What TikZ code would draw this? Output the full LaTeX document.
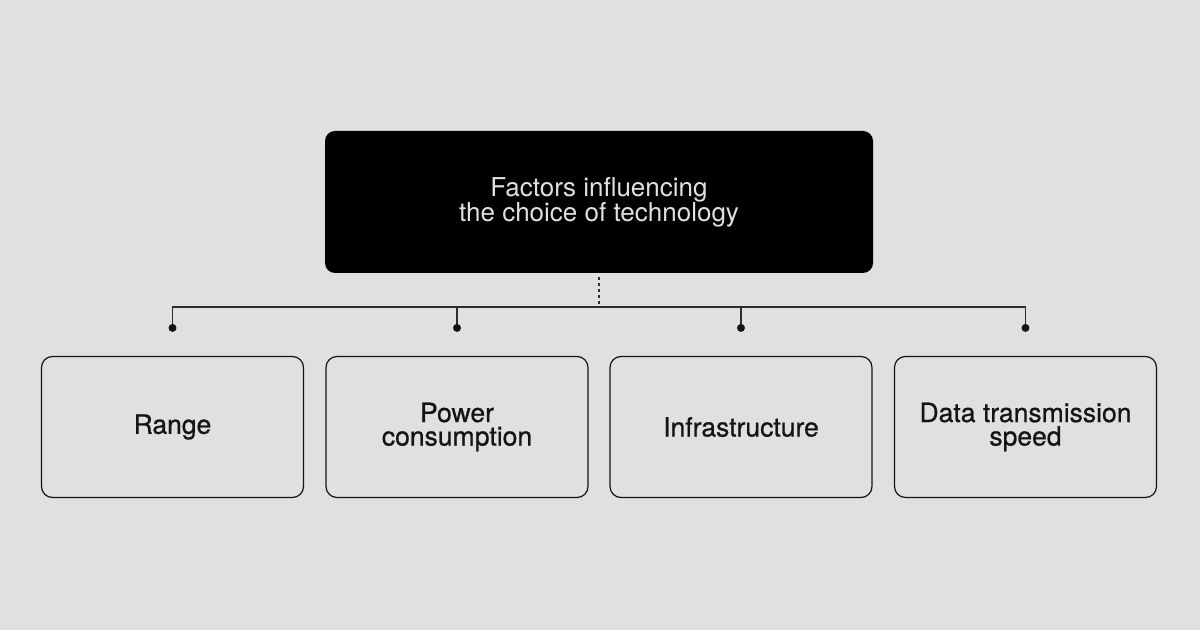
\documentclass[tikz,border=0pt]{standalone}
\usepackage{fontspec}
\setmainfont{TeX Gyre Heros}
\newfontface\midfont{TeX Gyre Heros}[FakeBold=0.7]
\usepackage{tikz}
\usetikzlibrary{positioning}
\definecolor{bgcolor}{RGB}{224,224,224}
\definecolor{inkcolor}{RGB}{20,20,20}
\definecolor{linkcolor}{RGB}{45,45,45}
\tikzset{
  titlebox/.style={fill=black, rounded corners=10pt, minimum width=548pt,
    minimum height=142pt, text=bgcolor, align=center,
    font=\fontsize{26}{25}\selectfont},
  factorbox/.style={draw=inkcolor, line width=1.2pt, rounded corners=11pt,
    minimum width=262pt, minimum height=141pt, text=inkcolor, align=center,
    font=\midfont\fontsize{26.5}{23.5}\selectfont},
  linkln/.style={line width=1.4pt, linkcolor},
  hubln/.style={dash pattern=on 3pt off 3pt, line width=1.4pt, linkcolor},
}
\newcommand{\tipdot}[1]{%
  \fill[inkcolor] #1 circle (4pt);
}
\begin{document}
\begin{tikzpicture}[x=1pt, y=1pt]
    \useasboundingbox[fill=bgcolor] (0,0) rectangle (1200,630);
    \node[titlebox] (top) at (599,428) {Factors influencing\\the choice of technology};
    % the four factors
    \node[factorbox] (range) at (172.5,203) {Range};
    \node[factorbox] (power) at (457,203) {Power\\consumption};
    \node[factorbox] (infra) at (741,203) {Infrastructure};
    \node[factorbox] (speed) at (1025.5,203) {Data transmission\\speed};
    \coordinate (hub) at (599,323);
    \coordinate[above=28pt of range] (d1);
    \coordinate[above=28pt of power] (d2);
    \coordinate[above=28pt of infra] (d3);
    \coordinate[above=28pt of speed] (d4);
    % connectors
    \draw[hubln] ([yshift=-4pt]top.south) -- (hub);
    \foreach \d in {d1,d2,d3,d4} {
      \draw[linkln] (hub) -| (\d);
      \tipdot{(\d)}
    }
  \end{tikzpicture}
\end{document}
